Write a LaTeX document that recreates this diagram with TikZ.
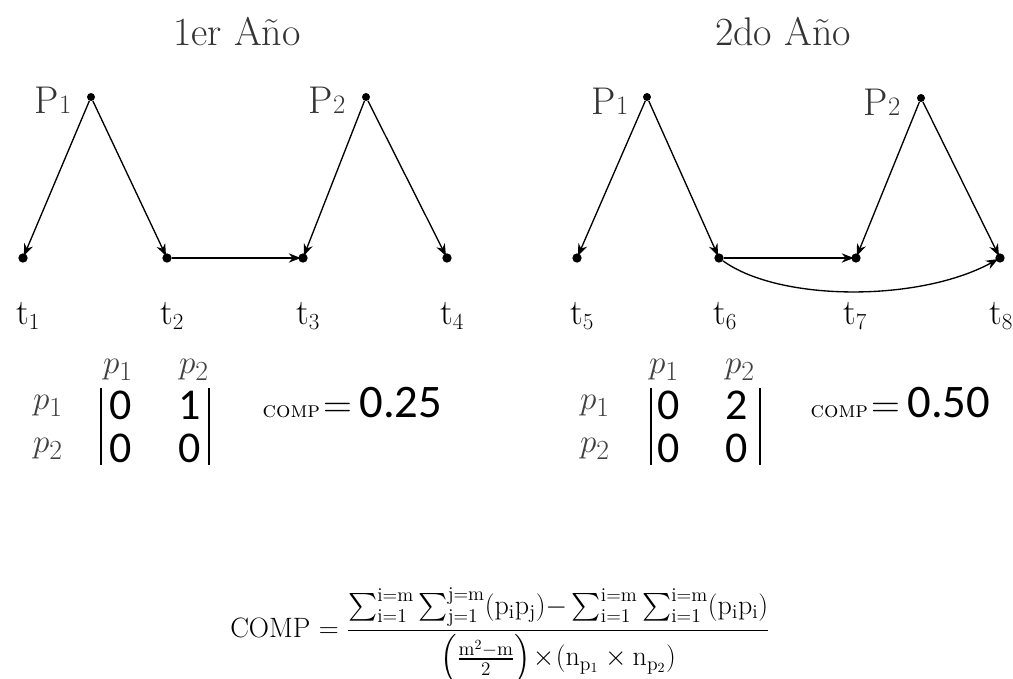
\documentclass[tikz,border=0pt]{standalone}
\usepackage{fontspec}
\usepackage{amsmath}
\newfontfamily\carl{Carlito}
\usetikzlibrary{arrows.meta}
\newcommand{\subn}[1]{{\fontsize{20}{20}\selectfont #1}}
\begin{document}
\begin{tikzpicture}[x=0.75pt,y=-0.75pt,
  pdot/.style={circle,fill=black,inner sep=0pt,minimum size=6pt},
  tdot/.style={circle,fill=black,inner sep=0pt,minimum size=7pt},
  arr/.style={-{Stealth[length=9pt,width=7pt]},line width=1pt,shorten >=-2pt},
  ttl/.style={font=\fontsize{30}{34}\selectfont,text=black!80},
  plab/.style={font=\fontsize{29}{32}\selectfont,text=black!80},
  tlab/.style={font=\fontsize{27}{30}\selectfont},
  hp/.style={font=\fontsize{28}{30}\selectfont,text=black!75,inner sep=1pt},
  ent/.style={font=\carl\fontsize{33}{34}\selectfont,inner sep=1pt},
  bar/.style={line width=2pt}]
\useasboundingbox (0,0) rectangle (1013,678);
% titles
\node[ttl] (ti1) at (237,32) {1er Año};
\node[ttl] (ti2) at (783,32) {2do Año};
% left graph
\node[pdot] (p1a) at (91,97) {};
\node[pdot] (p2a) at (366,97) {};
\node[tdot] (t1) at (23,258) {};
\node[tdot] (t2) at (167,258) {};
\node[tdot] (t3) at (303,258) {};
\node[tdot] (t4) at (447,258) {};
\node[plab] (lp1a) at (53,100) {P\subn{1}};
\node[plab] (lp2a) at (327,100) {P\subn{2}};
\node[tlab] (lt1) at (28,316) {t$_1$};
\node[tlab] (lt2) at (172,316) {t$_2$};
\node[tlab] (lt3) at (308,316) {t$_3$};
\node[tlab] (lt4) at (452,316) {t$_4$};
\draw[arr] (p1a) -- (t1);
\draw[arr] (p1a) -- (t2);
\draw[arr] (p2a) -- (t3);
\draw[arr] (p2a) -- (t4);
\draw[arr] (t2) -- (t3);
% right graph
\node[pdot] (p1b) at (647,97) {};
\node[pdot] (p2b) at (921,98) {};
\node[tdot] (t5) at (577,258) {};
\node[tdot] (t6) at (719,258) {};
\node[tdot] (t7) at (856,258) {};
\node[tdot] (t8) at (1000,258) {};
\node[plab] (lp1b) at (610,101) {P\subn{1}};
\node[plab] (lp2b) at (882,102) {P\subn{2}};
\node[tlab] (lt5) at (582,316) {t$_5$};
\node[tlab] (lt6) at (725,316) {t$_6$};
\node[tlab] (lt7) at (855,316) {t$_7$};
\node[tlab] (lt8) at (1001,316) {t$_8$};
\draw[arr] (p1b) -- (t5);
\draw[arr] (p1b) -- (t6);
\draw[arr] (p2b) -- (t7);
\draw[arr] (p2b) -- (t8);
\draw[arr] (t6) -- (t7);
\draw[arr] (t6) .. controls (780,302) and (920,302) .. (t8);
% left matrix
\node[hp] (h1a) at (118,370) {$p_1$};
\node[hp] (h2a) at (194,370) {$p_2$};
\node[hp] (r1a) at (48,406) {$p_1$};
\node[hp] (r2a) at (48,449) {$p_2$};
\node[ent] (e11a) at (121,405) {0};
\node[ent] (e12a) at (190,405) {1};
\node[ent] (e21a) at (121,448) {0};
\node[ent] (e22a) at (190,448) {0};
\draw[bar] (101,388) -- (101,465);
\draw[bar] (209,388) -- (209,465);
\node[anchor=west] (ca) at (258,403) {\fontsize{17}{20}\selectfont\textsc{comp}\,{\fontsize{30}{30}\selectfont =\,{\carl\fontsize{35}{35}\selectfont 0.25}}};
% right matrix
\node[hp] (h1b) at (664,370) {$p_1$};
\node[hp] (h2b) at (740,370) {$p_2$};
\node[hp] (r1b) at (595,406) {$p_1$};
\node[hp] (r2b) at (595,449) {$p_2$};
\node[ent] (e11b) at (669,405) {0};
\node[ent] (e12b) at (737,405) {2};
\node[ent] (e21b) at (669,448) {0};
\node[ent] (e22b) at (737,448) {0};
\draw[bar] (651,388) -- (651,465);
\draw[bar] (760,388) -- (760,465);
\node[anchor=west] (cb) at (806,403) {\fontsize{17}{20}\selectfont\textsc{comp}\,{\fontsize{30}{30}\selectfont =\,{\carl\fontsize{35}{35}\selectfont 0.50}}};
% formula
\node (fm) at (500,636) {\fontsize{21}{24}\selectfont
 COMP $=\dfrac{\textstyle\sum_{\mathrm{i=1}}^{\mathrm{i=m}}\sum_{\mathrm{j=1}}^{\mathrm{j=m}}(\mathrm{p_ip_j}){-}\sum_{\mathrm{i=1}}^{\mathrm{i=m}}\sum_{\mathrm{i=1}}^{\mathrm{i=m}}(\mathrm{p_ip_i})}{\left(\frac{\mathrm{m^2-m}}{2}\right)\!\times\!\left(\mathrm{n_{p_1}\times n_{p_2}}\right)}$};
\end{tikzpicture}
\end{document}
